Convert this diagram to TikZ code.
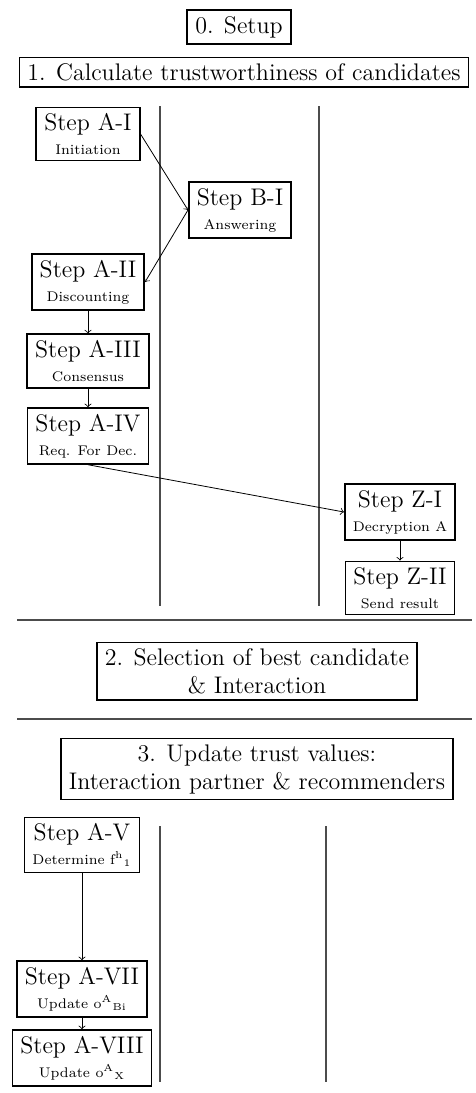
\documentclass[tikz,border=0pt]{standalone}
\usepackage{tikz}

\tikzset{
  stepbox/.style={draw, thick, align=center, inner xsep=4pt, inner ysep=3pt, font=\large},
  phasebox/.style={draw, thick, align=center, inner xsep=4pt, inner ysep=3pt, font=\large},
  lane/.style={gray!60!black, thick}
}
\newcommand{\stepsub}[1]{\\[-2pt]{\scriptsize #1}}

\begin{document}
\begin{tikzpicture}[x=0.5pt,y=-0.5pt]
\useasboundingbox (0,0) rectangle (476,1093);
% phase headers
\node[phasebox] (setup) at (239,27) {0. Setup};
\node[phasebox] (calc) at (244,72) {1. Calculate trustworthiness of candidates};
% lanes of phase 1
\draw[lane] (160,106) -- (160,606);
\draw[lane] (319,106) -- (319,606);
\node[stepbox] (ai) at (88,134) {Step A-I\stepsub{Initiation}};
\node[stepbox] (bi) at (240,210) {Step B-I\stepsub{Answering}};
\node[stepbox] (aii) at (88,282) {Step A-II\stepsub{Discounting}};
\node[stepbox] (aiii) at (88,361) {Step A-III\stepsub{Consensus}};
\node[stepbox] (aiv) at (88,436) {Step A-IV\stepsub{Req. For Dec.}};
\node[stepbox] (zi) at (400,512) {Step Z-I\stepsub{Decryption A}};
\node[stepbox] (zii) at (400,588) {Step Z-II\stepsub{Send result}};
\draw[->] (ai.east) -- (bi.west);
\draw[->] (bi.west) -- (aii.east);
\draw[->] (aii) -- (aiii);
\draw[->] (aiii) -- (aiv);
\draw[->] (aiv.south) -- (zi.west);
\draw[->] (zi) -- (zii);
% phase 2
\draw[lane] (17,620) -- (472,620);
\node[phasebox] (select) at (257,671) {2. Selection of best candidate\\\& Interaction};
\draw[lane] (17,719) -- (472,719);
% phase 3
\node[phasebox] (update) at (257,769) {3. Update trust values:\\Interaction partner \& recommenders};
\draw[lane] (160,826) -- (160,1082);
\draw[lane] (326,826) -- (326,1082);
\node[stepbox] (av) at (82,845) {Step A-V\stepsub{Determine f\textsuperscript{h}\textsubscript{1}}};
\node[stepbox] (avii) at (82,989) {Step A-VII\stepsub{Update o\textsuperscript{A}\textsubscript{Bi}}};
\node[stepbox] (aviii) at (82,1058) {Step A-VIII\stepsub{Update o\textsuperscript{A}\textsubscript{X}}};
\draw[->] (av) -- (avii);
\draw[->] (avii) -- (aviii);
\end{tikzpicture}
\end{document}
